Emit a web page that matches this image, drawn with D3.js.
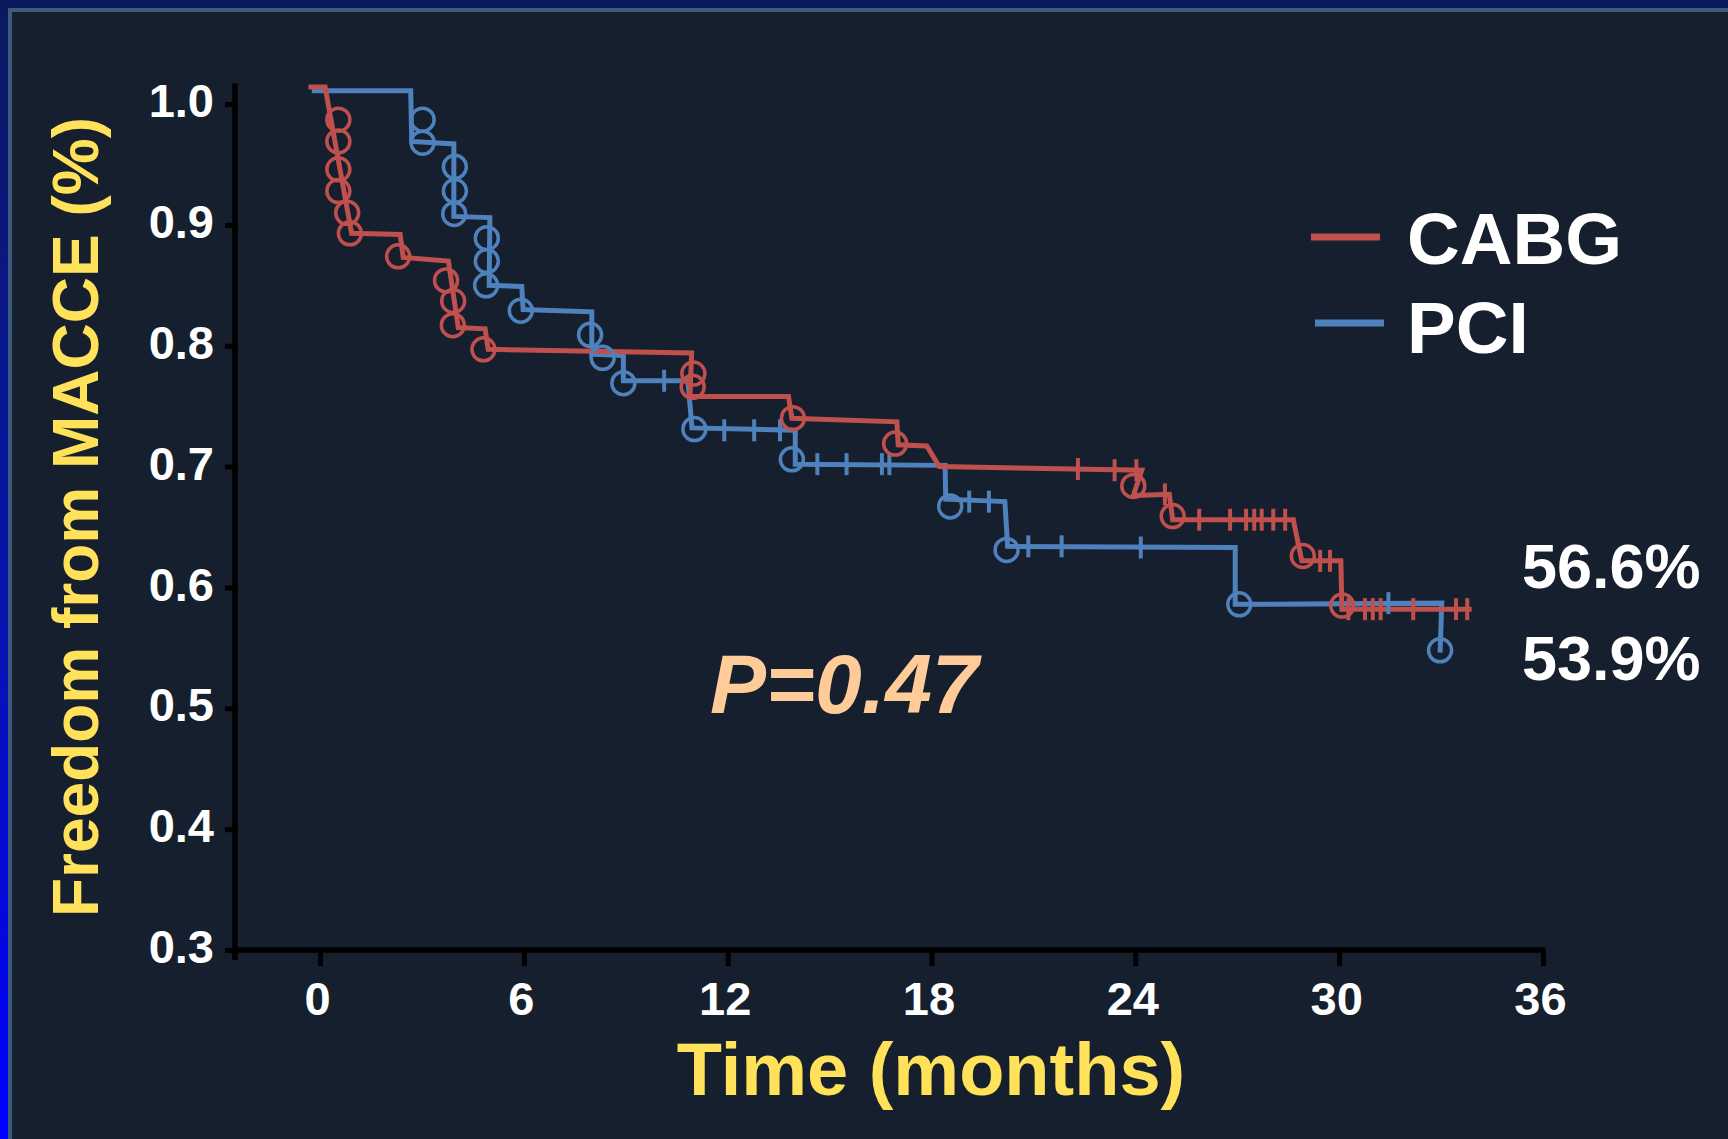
<!DOCTYPE html>
<html>
<head>
<meta charset="utf-8">
<script src="https://cdn.jsdelivr.net/npm/d3@7"></script>
<style>
  html, body { margin: 0; padding: 0; background: #151f2d; }
  svg { display: block; }
</style>
</head>
<body>
<div id="chart"></div>
<script>
// Kaplan-Meier curves: [months, survival]
const xTicks = [0, 6, 12, 18, 24, 30, 36];
const yTicks = [0.3, 0.4, 0.5, 0.6, 0.7, 0.8, 0.9, 1.0];

const cabgLine = [
    [-0.34, 1.014], [0.15, 1.014], [0.93, 0.893], [2.36, 0.892], [2.45, 0.873],
    [3.78, 0.870], [4.07, 0.815], [4.86, 0.814], [4.95, 0.797], [10.94, 0.794],
    [10.89, 0.758], [13.79, 0.758], [13.89, 0.740], [16.98, 0.737], [17.02, 0.718],
    [17.86, 0.717], [18.23, 0.700], [24.19, 0.697], [23.94, 0.676], [25.00, 0.677],
    [25.10, 0.656], [28.65, 0.656], [28.90, 0.622], [30.05, 0.622], [30.08, 0.582],
    [33.90, 0.582]
];
const cabgEvents = [
    [0.54, 0.987], [0.54, 0.969], [0.54, 0.946], [0.54, 0.928], [0.80, 0.910],
    [0.88, 0.893], [2.30, 0.874], [3.71, 0.854], [3.92, 0.837], [3.91, 0.817],
    [4.81, 0.797], [10.99, 0.777], [10.97, 0.766], [13.92, 0.740], [16.93, 0.719],
    [23.94, 0.684], [25.10, 0.659], [28.93, 0.626], [30.09, 0.585]
];
const cabgCensored = [
    [22.31, 0.698], [23.39, 0.697], [24.03, 0.697], [24.87, 0.677],
    [25.88, 0.656], [26.79, 0.656], [27.26, 0.656], [27.50, 0.656], [27.72, 0.656],
    [28.06, 0.656], [28.41, 0.656], [29.44, 0.622], [29.73, 0.622],
    [30.27, 0.582], [30.76, 0.582], [30.99, 0.582], [31.22, 0.582], [32.18, 0.582],
    [33.44, 0.582], [33.77, 0.582]
];

const pciLine = [
    [-0.24, 1.011], [2.67, 1.011], [2.70, 0.969], [3.94, 0.967], [3.94, 0.907],
    [5.00, 0.906], [4.98, 0.850], [5.94, 0.849], [5.98, 0.830], [8.00, 0.828],
    [8.00, 0.793], [8.93, 0.792], [8.93, 0.771], [10.83, 0.771], [10.95, 0.732],
    [13.99, 0.730], [13.99, 0.702], [18.40, 0.701], [18.42, 0.673], [20.16, 0.671],
    [20.24, 0.634], [26.94, 0.633], [26.94, 0.586], [33.02, 0.587], [32.97, 0.546]
];
const pciEvents = [
    [3.02, 0.987], [3.02, 0.968], [3.97, 0.948], [3.97, 0.928], [3.95, 0.909],
    [4.91, 0.889], [4.91, 0.870], [4.89, 0.850], [5.91, 0.829], [7.95, 0.809],
    [8.32, 0.790], [8.93, 0.769], [11.02, 0.731], [13.89, 0.706], [18.55, 0.667],
    [20.21, 0.631], [27.06, 0.586], [32.97, 0.548]
];
const pciCensored = [
    [10.13, 0.771], [11.90, 0.730], [12.78, 0.730], [13.54, 0.730],
    [14.64, 0.702], [15.50, 0.702], [16.54, 0.702], [16.76, 0.702],
    [19.11, 0.671], [19.69, 0.671], [20.85, 0.634], [21.83, 0.634], [24.16, 0.633],
    [31.45, 0.587]
];

const seriesNames = ["CABG", "PCI"];
const seriesColors = ["#c0504d", "#4f81bd"];
const finalRates = ["56.6%", "53.9%"];
const pText = "P=0.47";

function drawChart() {
    const width = 1728, height = 1139;
    const yellow = "#ffe15a";
    const font = "'Liberation Sans', Arial, sans-serif";

    const svg = d3.select("#chart").append("svg")
        .attr("width", width)
        .attr("height", height);

    // slide frame
    const defs = svg.append("defs");
    const grad = defs.append("linearGradient")
        .attr("id", "frame-grad")
        .attr("x1", "0%").attr("x2", "0%")
        .attr("y1", "0%").attr("y2", "100%");
    grad.append("stop").attr("offset", "0%").attr("stop-color", "#0b1a5e");
    grad.append("stop").attr("offset", "55%").attr("stop-color", "#0614b0");
    grad.append("stop").attr("offset", "100%").attr("stop-color", "#0000ff");

    svg.append("rect").attr("width", width).attr("height", height).attr("fill", "url(#frame-grad)");
    svg.append("rect").attr("x", 8).attr("y", 8).attr("width", width).attr("height", height).attr("fill", "#3e5a7f");
    svg.append("rect").attr("x", 12).attr("y", 12).attr("width", width).attr("height", height).attr("fill", "#151f2d");

    // scales
    const x = d3.scaleLinear().domain([0, 36]).range([320, 1543]);
    const y = d3.scaleLinear().domain([0.3, 1.0]).range([950, 104]);
    const axisX = 235;

    // y axis
    const yAxis = svg.append("g")
        .attr("transform", `translate(${axisX},0)`)
        .call(d3.axisLeft(y).tickValues(yTicks).tickFormat(d3.format(".1f"))
            .tickSize(10).tickSizeOuter(0).tickPadding(11));
    yAxis.select(".domain")
        .attr("d", `M0,${y(1.017)}V${y(0.3) + 10}`)
        .attr("stroke", "#000").attr("stroke-width", 5.5);
    yAxis.selectAll(".tick line").attr("stroke", "#000").attr("stroke-width", 5);
    yAxis.selectAll(".tick text")
        .attr("fill", "#fff")
        .attr("dy", "0.27em")
        .style("font-family", font)
        .style("font-weight", "bold")
        .style("font-size", "47px");

    // x axis
    const xAxis = svg.append("g")
        .attr("transform", `translate(0,${y(0.3)})`)
        .call(d3.axisBottom(x).tickValues(xTicks)
            .tickSize(16).tickSizeOuter(0).tickPadding(16));
    xAxis.select(".domain")
        .attr("d", `M${axisX},0H${x(36) + 2}`)
        .attr("stroke", "#000").attr("stroke-width", 5.5);
    xAxis.selectAll(".tick line").attr("stroke", "#000").attr("stroke-width", 5);
    xAxis.selectAll(".tick text")
        .attr("fill", "#fff")
        .attr("dx", -3)
        .style("font-family", font)
        .style("font-weight", "bold")
        .style("font-size", "47px");
    svg.selectAll(".domain").attr("fill", "none");

    // axis titles
    svg.append("text")
        .attr("x", 931).attr("y", 1095)
        .attr("text-anchor", "middle")
        .attr("fill", yellow)
        .style("font-family", font).style("font-weight", "bold").style("font-size", "74px")
        .text("Time (months)");

    svg.append("text")
        .attr("transform", "translate(98,517) rotate(-90)")
        .attr("text-anchor", "middle")
        .attr("fill", yellow)
        .style("font-family", font).style("font-weight", "bold").style("font-size", "64px")
        .text("Freedom from MACCE (%)");

    // curves
    const line = d3.line().x(d => x(d[0])).y(d => y(d[1]));
    const series = [
        { line: pciLine, events: pciEvents, censored: pciCensored, color: seriesColors[1] },
        { line: cabgLine, events: cabgEvents, censored: cabgCensored, color: seriesColors[0] }
    ];

    series.forEach(s => {
        svg.append("path")
            .datum(s.line)
            .attr("d", line)
            .attr("fill", "none")
            .attr("stroke", s.color)
            .attr("stroke-width", 5)
            .attr("stroke-linejoin", "miter");
    });

    series.forEach(s => {
        svg.append("g").selectAll("circle")
            .data(s.events)
            .join("circle")
            .attr("cx", d => x(d[0]))
            .attr("cy", d => y(d[1]))
            .attr("r", 11.5)
            .attr("fill", "none")
            .attr("stroke", s.color)
            .attr("stroke-width", 3.5);

        svg.append("g").selectAll("line")
            .data(s.censored)
            .join("line")
            .attr("x1", d => x(d[0])).attr("x2", d => x(d[0]))
            .attr("y1", d => y(d[1]) - 11).attr("y2", d => y(d[1]) + 11)
            .attr("stroke", s.color)
            .attr("stroke-width", 4);
    });

    // legend
    const legendY = [237, 323];
    const legend = svg.append("g");
    legend.selectAll("line")
        .data(seriesNames)
        .join("line")
        .attr("x1", (d, i) => 1311 + i * 4)
        .attr("x2", (d, i) => 1380 + i * 4)
        .attr("y1", (d, i) => legendY[i])
        .attr("y2", (d, i) => legendY[i])
        .attr("stroke", (d, i) => seriesColors[i])
        .attr("stroke-width", 7);
    legend.selectAll("text")
        .data(seriesNames)
        .join("text")
        .attr("x", 1407)
        .attr("y", (d, i) => [264, 353][i])
        .attr("fill", "#fff")
        .style("font-family", font).style("font-weight", "bold").style("font-size", "73px")
        .text(d => d);

    // final rates
    svg.selectAll(".rate")
        .data(finalRates)
        .join("text")
        .attr("class", "rate")
        .attr("x", 1522)
        .attr("y", (d, i) => [588, 680][i])
        .attr("fill", "#fff")
        .style("font-family", font).style("font-weight", "bold").style("font-size", "63px")
        .text(d => d);

    // p value
    svg.append("text")
        .attr("x", 710).attr("y", 713)
        .attr("fill", "#ffcc99")
        .style("font-family", font).style("font-weight", "bold")
        .style("font-style", "italic").style("font-size", "84px")
        .text(pText);
}

document.addEventListener("DOMContentLoaded", drawChart);
</script>
</body>
</html>
